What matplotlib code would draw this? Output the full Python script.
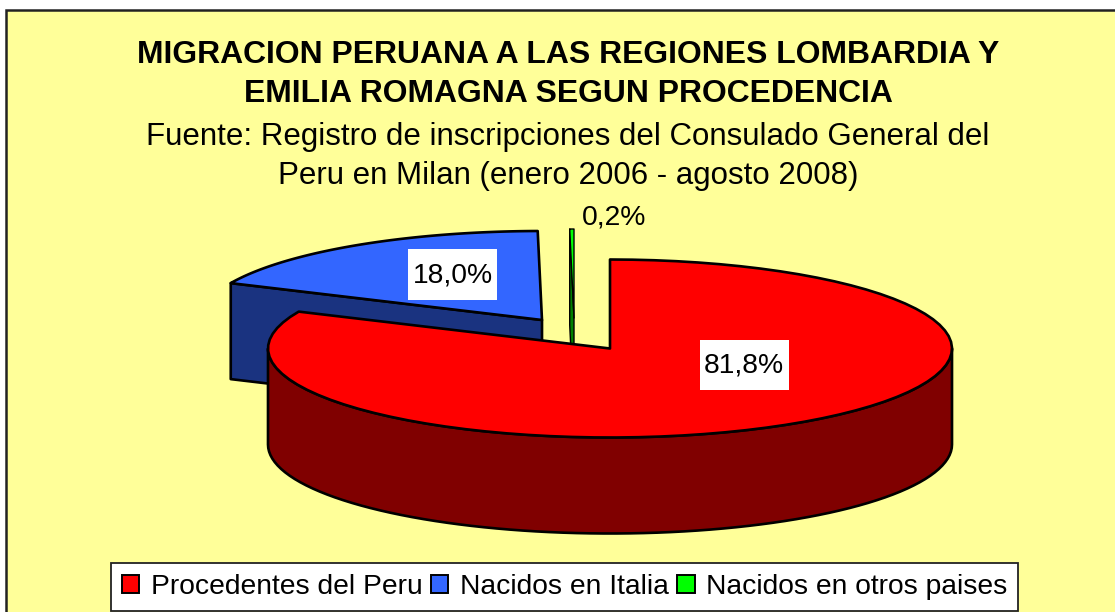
import numpy as np
import matplotlib
matplotlib.use('Agg')
import matplotlib.pyplot as plt
from matplotlib.patches import Polygon, Rectangle, Patch

plt.rcParams['font.family'] = ['Liberation Sans', 'DejaVu Sans']

categories = ['Procedentes del Peru', 'Nacidos en Italia', 'Nacidos en otros paises']
values = [81.8, 18.0, 0.2]
labels = ['81,8%', '18,0%', '0,2%']
title_lines = ['MIGRACION PERUANA A LAS REGIONES LOMBARDIA Y',
               'EMILIA ROMAGNA SEGUN PROCEDENCIA']
source_lines = ['Fuente: Registro de inscripciones del Consulado General del',
                'Peru en Milan (enero 2006 - agosto 2008)']

top_colors = ['#FF0000', '#3366FF', '#00FF00']
side_colors = ['#800000', '#1A3380', '#008000']

# pie geometry in image pixels
rx, ry = 342, 89
depth = 96
apexes = [(610, 348.5), (542, 320), (574, 318)]
label_pos = [(744, 365), (453, 276), (614, 218)]
label_boxes = [(700, 340, 89, 50), (408, 249, 89, 51)]


def rim(a, b, n=80):
    # points on the rim, angle clockwise from 12 o'clock
    t = np.radians(np.linspace(a, b, n))
    return np.column_stack([np.sin(t) * rx, -np.cos(t) * ry])


fig = plt.figure(figsize=(11.15, 6.12), dpi=100, facecolor='white')
ax = fig.add_axes([0, 0, 1, 1])
ax.set_xlim(0, 1115)
ax.set_ylim(612, 0)
ax.axis('off')

# the frame runs off the right and bottom of the image
ax.add_patch(Rectangle((6, 10), 1200, 700, fc='#FFFF99', ec='#222222', lw=1.8))

edges = np.concatenate([[0], np.cumsum(values) / np.sum(values) * 360])

# draw back to front: blue, green, red
for i in [1, 2, 0]:
    a, b = edges[i], edges[i + 1]
    c = np.array(apexes[i], dtype=float)
    arc = rim(a, b) + c
    down = np.array([0, depth])
    line = dict(ec='black', lw=1.0 if i == 2 else 1.9, joinstyle='round')
    if i == 0:
        # outer wall on the front half
        wall = rim(90, 270) + c
        ax.add_patch(Polygon(np.vstack([wall, (wall + down)[::-1]]), fc=side_colors[i], **line))
    else:
        # cut face towards the viewer
        p = arc[0]
        ax.add_patch(Polygon([c, p, p + down, c + down], fc=side_colors[i], **line))
    ax.add_patch(Polygon(np.vstack([c, arc]), fc=top_colors[i], **line))

# data labels
for x, y, w, h in label_boxes:
    ax.add_patch(Rectangle((x, y), w, h, fc='white', ec='none'))
for i, txt in enumerate(labels):
    ax.text(label_pos[i][0], label_pos[i][1], txt, ha='center', va='center',
            fontsize=20.3, color='black')

# titles
for y, txt in zip([55, 94], title_lines):
    ax.text(568.5, y, txt, ha='center', va='center', fontsize=22.95, fontweight='bold')
for y, txt in zip([137, 176], source_lines):
    ax.text(568, y, txt, ha='center', va='center', fontsize=22.5)

handles = [Patch(fc=c, ec='black', lw=1.4) for c in top_colors]
leg = ax.legend(handles, categories, ncol=3, loc='center', bbox_to_anchor=(564.5, 587),
                bbox_transform=ax.transData, fontsize=20.3, frameon=True, fancybox=False,
                framealpha=1, edgecolor='#222222', facecolor='white',
                handlelength=0.62, handleheight=0.62, handletextpad=0.4,
                columnspacing=0.3, borderpad=0.38, borderaxespad=0)
leg.get_frame().set_linewidth(1.3)

fig.savefig('out.png', dpi=100)
